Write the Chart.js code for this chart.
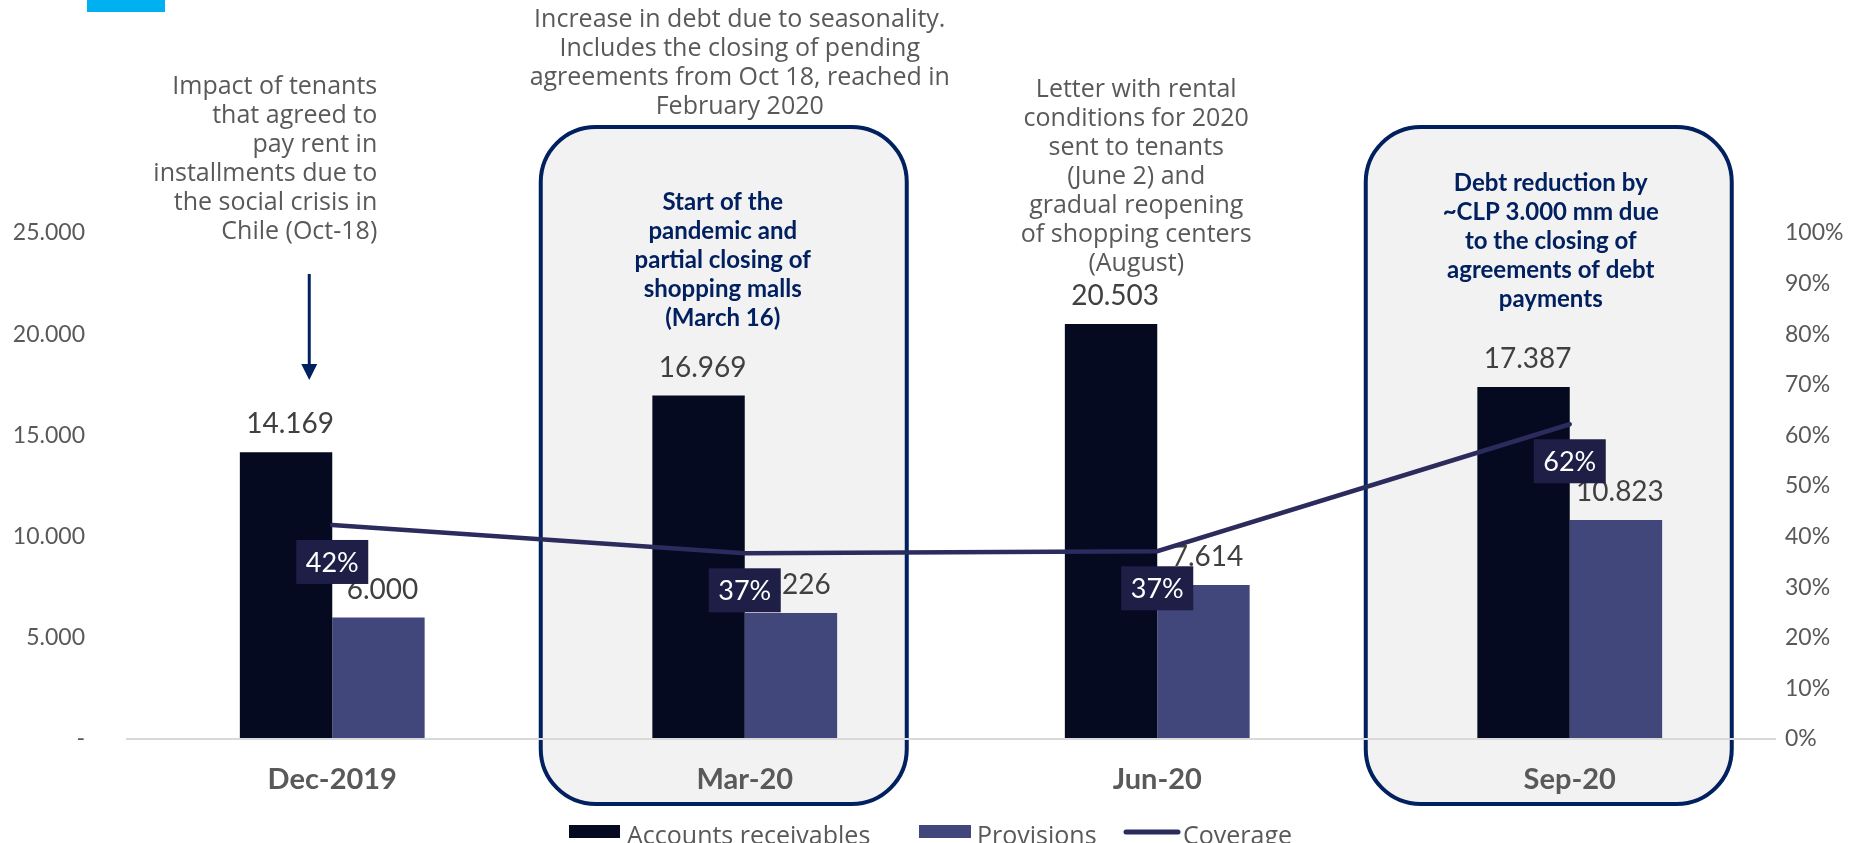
<!DOCTYPE html>
<html>
<head>
<meta charset="utf-8">
<script src="https://cdn.jsdelivr.net/npm/chart.js@4.4.0/dist/chart.umd.min.js"></script>
<style>
  html, body { margin: 0; padding: 0; background: #fff; }
</style>
</head>
<body>
<canvas id="myChart" width="1862" height="843"></canvas>
<script>
const categories = ['Dec-2019', 'Mar-20', 'Jun-20', 'Sep-20'];
const receivables = [14169, 16969, 20503, 17387];
const provisions = [6000, 6226, 7614, 10823];
const coverage = [42.3, 36.7, 37.1, 62.2]; // %
const seriesNames = ['Accounts receivables', 'Provisions', 'Coverage'];

const notes = [
    ['Impact of tenants', 'that agreed to', 'pay rent in', 'installments due to', 'the social crisis in', 'Chile (Oct-18)'],
    ['Increase in debt due to seasonality.', 'Includes the closing of pending', 'agreements from Oct 18, reached in', 'February 2020'],
    ['Letter with rental', 'conditions for 2020', 'sent to tenants', '(June 2) and', 'gradual reopening', 'of shopping centers', '(August)']
];
const boxNotes = [
    ['Start of the', 'pandemic and', 'partial closing of', 'shopping malls', '(March 16)'],
    ['Debt reduction by', '~CLP 3.000 mm due', 'to the closing of', 'agreements of debt', 'payments']
];

const FONT = 'Lato, "Open Sans", sans-serif';
const NOTE_FONT = '"Open Sans", Lato, sans-serif';
const GREY = '#595959';
const NAVY = '#002060';
const fmt = v => String(v).replace(/\B(?=(\d{3})+(?!\d))/g, '.');

function drawLines(ctx, lines, x, y0, step, align) {
    ctx.textAlign = align;
    ctx.textBaseline = 'middle';
    lines.forEach((t, i) => ctx.fillText(t, x, y0 + i * step));
}

const extras = {
    id: 'extras',
    beforeDraw(chart) {
        const ctx = chart.ctx;
        const x = chart.scales.x;
        ctx.save();
        [1, 3].forEach(i => {
            const cx = x.getPixelForValue(i) - 21;
            ctx.beginPath();
            ctx.roundRect(cx - 183, 127, 366, 677, 55);
            ctx.fillStyle = '#f2f2f2';
            ctx.fill();
            ctx.lineWidth = 4;
            ctx.strokeStyle = NAVY;
            ctx.stroke();
        });
        ctx.restore();
    },
    afterDatasetDraw(chart, args) {
        const ctx = chart.ctx;
        const ds = chart.data.datasets[args.index];
        ctx.save();
        ctx.textAlign = 'center';
        ctx.textBaseline = 'middle';
        if (ds.type !== 'line') {
            ctx.font = '28px ' + FONT;
            ctx.fillStyle = '#404040';
            args.meta.data.forEach((bar, i) => {
                ctx.fillText(fmt(ds.data[i]), bar.x + 4, bar.y - 28);
            });
        } else {
            ctx.font = '27px ' + FONT;
            args.meta.data.forEach((pt, i) => {
                const cy = pt.y + 37;
                ctx.fillStyle = '#1e1e46';
                ctx.fillRect(pt.x - 36, cy - 22, 72, 44);
                ctx.fillStyle = '#ffffff';
                ctx.fillText(Math.round(ds.data[i]) + '%', pt.x, cy + 1);
            });
        }
        ctx.restore();
    },
    afterDraw(chart) {
        const ctx = chart.ctx;
        const x = chart.scales.x;
        const px = i => x.getPixelForValue(i);
        ctx.save();

        // top-left accent
        ctx.fillStyle = '#00b0f0';
        ctx.fillRect(87, 0, 78, 12);

        // grey notes
        ctx.font = '25px ' + NOTE_FONT;
        ctx.fillStyle = GREY;
        drawLines(ctx, notes[0], px(0) + 45, 87, 29, 'right');
        drawLines(ctx, notes[1], px(1) - 5, 20, 29, 'center');
        drawLines(ctx, notes[2], px(2) - 21, 90, 29, 'center');

        // bold notes in boxes
        ctx.font = 'bold 24px ' + FONT;
        ctx.fillStyle = NAVY;
        drawLines(ctx, boxNotes[0], px(1) - 22, 202, 29, 'center');
        drawLines(ctx, boxNotes[1], px(3) - 19, 183, 29, 'center');

        // arrow
        const ax = px(0) - 23;
        ctx.strokeStyle = NAVY;
        ctx.fillStyle = NAVY;
        ctx.lineWidth = 3;
        ctx.beginPath();
        ctx.moveTo(ax, 274);
        ctx.lineTo(ax, 366);
        ctx.stroke();
        ctx.beginPath();
        ctx.moveTo(ax - 8, 364);
        ctx.lineTo(ax + 8, 364);
        ctx.lineTo(ax, 380);
        ctx.closePath();
        ctx.fill();

        // legend
        const ds = chart.data.datasets;
        ctx.font = '25px ' + NOTE_FONT;
        ctx.textAlign = 'left';
        ctx.textBaseline = 'alphabetic';
        ctx.fillStyle = ds[0].backgroundColor;
        ctx.fillRect(569, 825, 51, 13);
        ctx.fillStyle = ds[1].backgroundColor;
        ctx.fillRect(919, 825, 52, 13);
        ctx.strokeStyle = ds[2].borderColor;
        ctx.lineWidth = 5;
        ctx.lineCap = 'round';
        ctx.beginPath();
        ctx.moveTo(1126, 832);
        ctx.lineTo(1178, 832);
        ctx.stroke();
        ctx.fillStyle = GREY;
        ctx.fillText(seriesNames[0], 627, 844);
        ctx.fillText(seriesNames[1], 977, 844);
        ctx.fillText(seriesNames[2], 1183, 844);
        ctx.restore();
    }
};

const ctx = document.getElementById('myChart').getContext('2d');
new Chart(ctx, {
    type: 'bar',
    data: {
        labels: categories,
        datasets: [
            {
                label: seriesNames[0],
                data: receivables,
                backgroundColor: '#050a20',
                yAxisID: 'y',
                order: 1
            },
            {
                label: seriesNames[1],
                data: provisions,
                backgroundColor: '#41477a',
                yAxisID: 'y',
                order: 1
            },
            {
                type: 'line',
                label: seriesNames[2],
                data: coverage,
                borderColor: '#2b2b5e',
                borderWidth: 4.5,
                borderCapStyle: 'round',
                pointRadius: 0,
                tension: 0,
                yAxisID: 'y1',
                order: 0
            }
        ]
    },
    options: {
        responsive: false,
        animation: false,
        categoryPercentage: 0.448,
        barPercentage: 1.0,
        layout: { padding: { top: 233, left: 0, right: 0, bottom: 0 } },
        plugins: {
            legend: { display: false },
            tooltip: { enabled: false }
        },
        scales: {
            x: {
                grid: { display: false, drawTicks: false },
                border: { display: false },
                ticks: {
                    color: GREY,
                    font: { family: FONT, size: 29, weight: 'bold' },
                    padding: 23
                },
                afterFit(s) { s.height = 104; }
            },
            y: {
                position: 'left',
                min: 0,
                max: 25000,
                border: { display: false },
                grid: {
                    drawTicks: false,
                    lineWidth: 2,
                    color: c => (c.tick && c.tick.value === 0) ? '#d9d9d9' : 'rgba(0,0,0,0)'
                },
                ticks: {
                    stepSize: 5000,
                    autoSkip: false,
                    padding: 41,
                    color: GREY,
                    font: { family: FONT, size: 23 },
                    callback: v => v === 0 ? '-' : fmt(v)
                },
                afterFit(s) { s.width = 126; }
            },
            y1: {
                position: 'right',
                min: 0,
                max: 100,
                border: { display: false },
                grid: { display: false, drawTicks: false },
                ticks: {
                    stepSize: 10,
                    autoSkip: false,
                    padding: 9,
                    color: GREY,
                    font: { family: FONT, size: 23 },
                    callback: v => v + '%'
                },
                afterFit(s) { s.width = 86; }
            }
        }
    },
    plugins: [extras]
});
</script>
</body>
</html>
